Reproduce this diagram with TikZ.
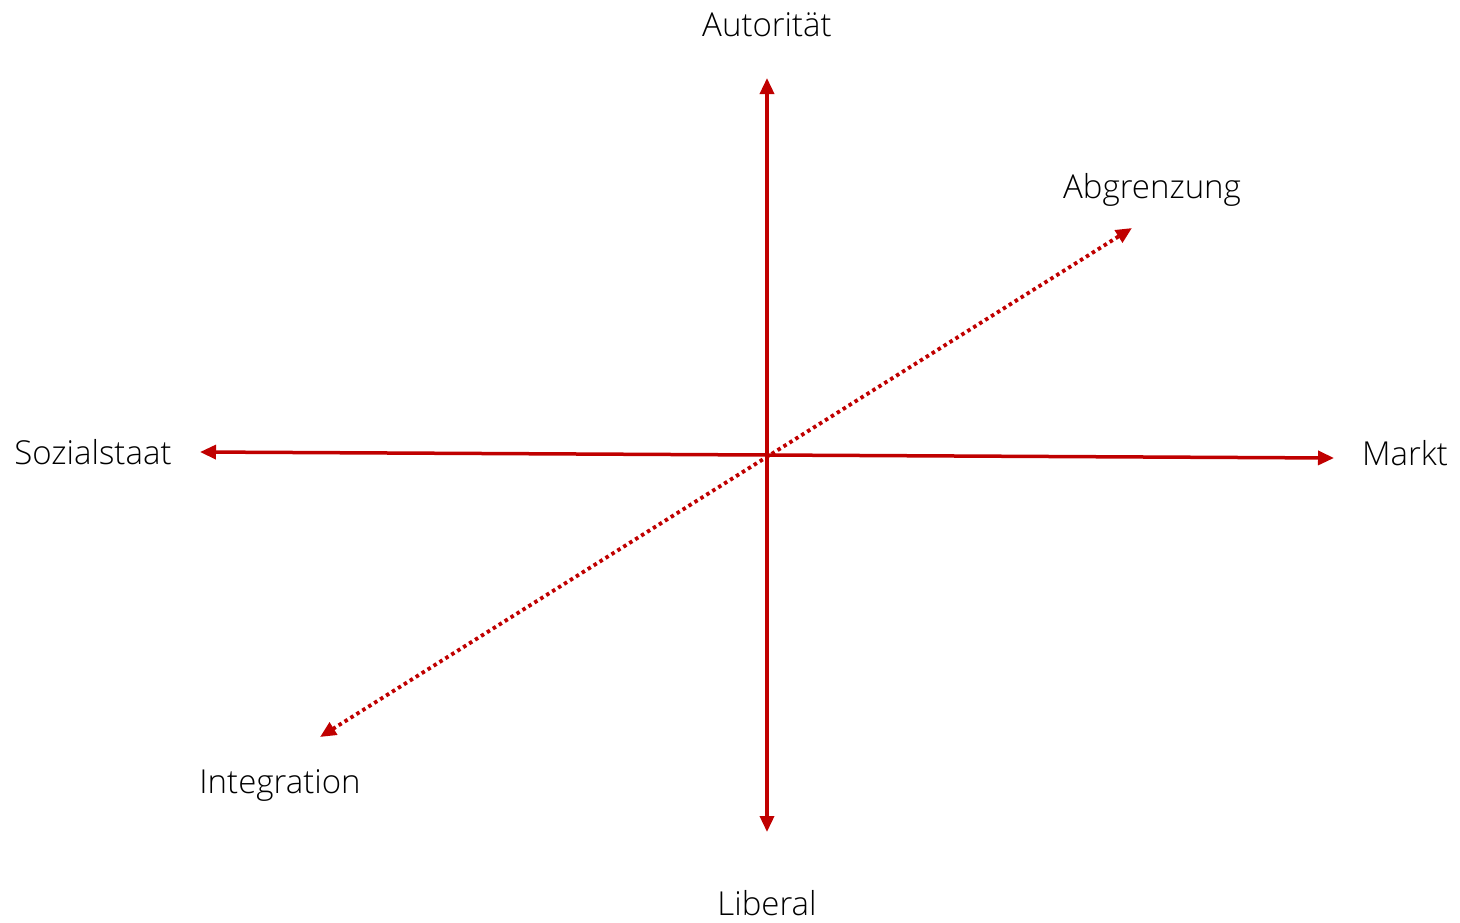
\documentclass[tikz,border=0pt]{standalone}
\usepackage{fontspec}
\IfFontExistsTF{Open Sans Light}{\setmainfont{Open Sans Light}}{\setmainfont{Open Sans}}
\usetikzlibrary{arrows.meta}
\definecolor{axisred}{HTML}{C00000}

\newcommand{\lw}{3.5pt}   % axis line width
\newcommand{\fsz}{\fontsize{33}{39}\selectfont}

\begin{document}
\begin{tikzpicture}[x=1pt,y=-1pt,
    axis/.style={draw=axisred,line width=\lw,
      {Triangle[length=16pt,width=14pt]}-{Triangle[length=16pt,width=14pt]}},
    dotaxis/.style={axis,line width=3.8pt,dash pattern=on 3.5pt off 3.5pt},
    lbl/.style={font=\fsz,text=black,inner sep=0pt}]
      \useasboundingbox (0,0) rectangle (1460,922);
%
      \coordinate (top) at (767,78);
      \coordinate (bot) at (767,832);
      \coordinate (left) at (200,452);
      \coordinate (right) at (1334,458);
      \coordinate (ne) at (1132,228);
      \coordinate (sw) at (320,737);
%
      \node[lbl] (autoritaer) at (767,25) {Autorität};
      \node[lbl] (liberal) at (767,903) {Liberal};
      \node[lbl] (sozial) at (93,452) {Sozialstaat};
      \node[lbl] (markt) at (1405,453) {Markt};
      \node[lbl] (abgrenzung) at (1152,190) {Abgrenzung};
      \node[lbl] (integration) at (280,785) {Integration};
%
      \draw[dotaxis] (sw) -- (ne);
      \draw[axis] (bot) -- (top);
      \draw[axis] (left) -- (right);
\end{tikzpicture}
\end{document}
